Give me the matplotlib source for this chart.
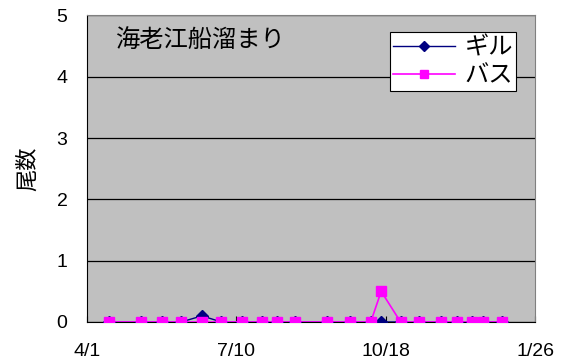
import matplotlib
matplotlib.use('Agg')
import matplotlib.pyplot as plt
import matplotlib.dates as mdates
import pandas as pd

plt.rcParams['font.family'] = ['Liberation Sans', 'Noto Sans CJK JP', 'DejaVu Sans']

# Data
# ____________________________________________________________
survey_dates = ['2006-04-16', '2006-05-07', '2006-05-21', '2006-06-03', '2006-06-17',
                '2006-06-30', '2006-07-14', '2006-07-27', '2006-08-06', '2006-08-18',
                '2006-09-09', '2006-09-24', '2006-10-08', '2006-10-15', '2006-10-28',
                '2006-11-09', '2006-11-24', '2006-12-05', '2006-12-15', '2006-12-22',
                '2007-01-04']
gill_counts = [0, 0, 0, 0, 0.1, 0, 0, 0, 0, 0, 0, 0, 0, 0, 0, 0, 0, 0, 0, 0, 0]
bass_counts = [0, 0, 0, 0, 0, 0, 0, 0, 0, 0, 0, 0, 0, 0.5, 0, 0, 0, 0, 0, 0, 0]
tick_dates = ['2006-04-01', '2006-07-10', '2006-10-18', '2007-01-26']
y_ticks = [0, 1, 2, 3, 4, 5]

dates = pd.to_datetime(survey_dates)
ticks = pd.to_datetime(tick_dates)

C_GILL = '#000080'
C_BASS = '#FF00FF'
CJK = ['Noto Sans CJK JP', 'DejaVu Sans']

fig = plt.figure(figsize=(5.68, 3.62), dpi=100, facecolor='white')
ax = fig.add_axes([87 / 568, 1 - 322 / 362, 448 / 568, 306.5 / 362])
ax.set_facecolor('#C0C0C0')

ax.plot(dates, gill_counts, color=C_GILL, linewidth=1.0, marker='D',
        markersize=6.5, label='ギル', zorder=3)
ax.plot(dates, bass_counts, color=C_BASS, linewidth=1.2, marker='s',
        markersize=7.3, label='バス', zorder=4)

ax.set_xlim(ticks[0], ticks[-1])
ax.set_ylim(0, 5)
ax.set_xticks(ticks)
ax.xaxis.set_major_formatter(plt.FuncFormatter(
    lambda x, _: f'{mdates.num2date(x).month}/{mdates.num2date(x).day}'))
ax.set_yticks(y_ticks)
ax.grid(axis='y', color='black', linewidth=0.9)
ax.set_axisbelow(True)

ax.tick_params(axis='x', direction='in', length=4, width=0.8, pad=15,
               labelsize=14, colors='black')
ax.tick_params(axis='y', length=0, pad=14, labelsize=14)
ax.set_ylabel('尾数', fontsize=16, labelpad=13, family=CJK)

for side in ['top', 'right']:
    ax.spines[side].set_color('#808080')
for side in ['left', 'bottom']:
    ax.spines[side].set_color('black')

ax.text(115 / 568, 1 - 40 / 362, '海老江船溜まり', transform=fig.transFigure,
        fontsize=17.5, va='center', ha='left', family=CJK)

leg = ax.legend(loc='upper left', bbox_to_anchor=(390 / 568, 1 - 32 / 362),
                bbox_transform=fig.transFigure, borderaxespad=0,
                prop={'family': CJK, 'size': 17.5},
                frameon=True, fancybox=False, framealpha=1, edgecolor='black',
                handlelength=2.55, handletextpad=0.4, labelspacing=0.05,
                borderpad=0.12, markerscale=0.85)
leg.get_frame().set_linewidth(0.8)

fig.savefig('out.png', dpi=100, facecolor='white')
